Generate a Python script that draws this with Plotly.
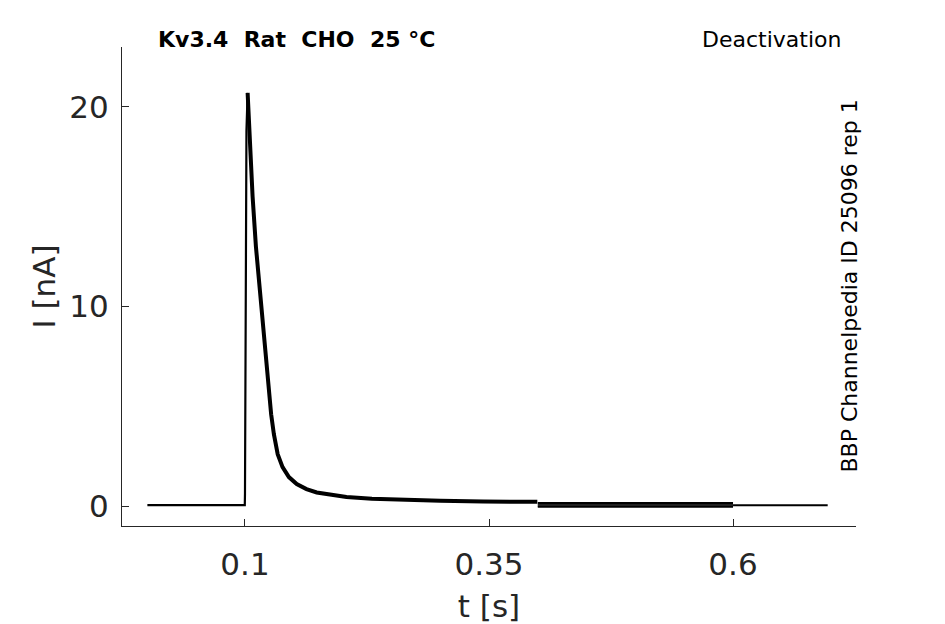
import plotly.graph_objects as go

# holding segment and activation step (s, nA)
t_rise = [0.0, 0.05, 0.0998, 0.1000, 0.1015, 0.1027]
i_rise = [0.05, 0.05, 0.05, 0.6, 18.8, 20.7]

# decaying tail after the peak
t_decay = [0.1027, 0.1050, 0.1078, 0.1112, 0.1170, 0.1230, 0.1268, 0.1296,
           0.1335, 0.1385, 0.1450, 0.1530, 0.1630, 0.1735, 0.1880, 0.2040,
           0.2300, 0.2600, 0.3000, 0.3440, 0.3995]
i_decay = [20.7, 18.0, 15.5, 13.0, 9.7, 6.3, 4.6, 3.6,
           2.6, 1.95, 1.45, 1.1, 0.85, 0.68, 0.55, 0.45,
           0.36, 0.30, 0.26, 0.23, 0.21]

# deactivation step levels, one per sweep
t_deact = [0.4, 0.6]
deact_levels = [0.17, 0.11, 0.05, -0.01, -0.05]

# return to holding
t_tail = [0.6, 0.697]
i_tail = [0.04, 0.04]

ink = "black"
fig = go.Figure()
fig.add_trace(go.Scatter(x=t_rise, y=i_rise, mode="lines",
                         line=dict(color=ink, width=2.2), showlegend=False))
fig.add_trace(go.Scatter(x=t_decay, y=i_decay, mode="lines",
                         line=dict(color=ink, width=4), showlegend=False))
for lvl in deact_levels:
    fig.add_trace(go.Scatter(x=t_deact, y=[lvl, lvl], mode="lines",
                             line=dict(color=ink, width=1.5), showlegend=False))
fig.add_trace(go.Scatter(x=t_tail, y=i_tail, mode="lines",
                         line=dict(color=ink, width=2.2), showlegend=False))

axis_col = "#262626"
fig.update_xaxes(
    range=[-0.026, 0.726],
    tickvals=[0.1, 0.35, 0.6],
    ticktext=["0.1", "0.35", "0.6"],
    ticks="inside", ticklen=7, tickcolor=axis_col,
    showline=True, linecolor=axis_col, linewidth=1,
    showgrid=False, zeroline=False, automargin=False,
    tickfont=dict(size=31, color=axis_col),
    ticklabelstandoff=11,
    title=dict(text="t [s]", font=dict(size=31, color=axis_col), standoff=15),
)
fig.update_yaxes(
    range=[-1.0, 23.0],
    tickvals=[0, 10, 20],
    ticks="inside", ticklen=7, tickcolor=axis_col,
    showline=True, linecolor=axis_col, linewidth=1,
    showgrid=False, zeroline=False, automargin=False,
    tickfont=dict(size=31, color=axis_col),
    ticklabelstandoff=6,
    title=dict(text="I [nA]", font=dict(size=31, color=axis_col), standoff=4),
)

fig.add_annotation(text="<b>Kv3.4  Rat  CHO  25 °C</b>", xref="paper", yref="paper",
                   x=0.047, y=1.0167, xanchor="left", yanchor="middle",
                   showarrow=False, font=dict(size=22, color="black"))
fig.add_annotation(text="Deactivation", xref="paper", yref="paper",
                   x=0.982, y=1.0167, xanchor="right", yanchor="middle",
                   showarrow=False, font=dict(size=22, color="black"))
fig.add_annotation(text="BBP Channelpedia ID 25096 rep 1", xref="paper", yref="paper",
                   x=0.9905, y=0.5, xanchor="center", yanchor="middle", textangle=-90,
                   showarrow=False, font=dict(size=22, color="black"))

# page body adds an 8px offset, so the figure is drawn 8px smaller
fig.update_layout(
    width=937, height=616,
    margin=dict(l=114, r=89, t=39, b=98),
    plot_bgcolor="white", paper_bgcolor="white",
    font=dict(family="DejaVu Sans"),
)

fig.write_html("out.html")
